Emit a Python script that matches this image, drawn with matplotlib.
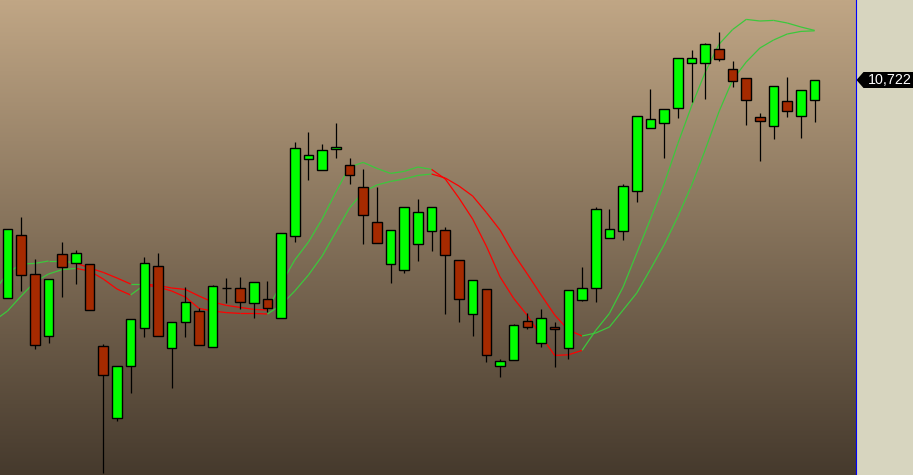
import numpy as np
import matplotlib
matplotlib.use("Agg")
import matplotlib.pyplot as plt
from matplotlib.patches import Polygon
from matplotlib.lines import Line2D

# ---- data ----
opens  = [9632, 9947, 9752, 9442, 9852, 9807, 9802, 9392, 9032, 9292,
          9482, 9792, 9382, 9512, 9567, 9387, 9682, 9682, 9607, 9627,
          9532, 9942, 10327, 10272, 10377, 10297, 10187, 10012, 9802, 9772,
          9902, 9967, 9972, 9822, 9552, 9677, 9292, 9322, 9517, 9407,
          9487, 9382, 9622, 9682, 9932, 9967, 10167, 10482, 10507, 10582,
          10807, 10807, 10877, 10777, 10732, 10537, 10492, 10617, 10542, 10622]
highs  = [9977, 10037, 9827, 9727, 9912, 9872, 9802, 9402, 9292, 9527,
          9837, 9857, 9512, 9687, 9582, 9697, 9732, 9737, 9712, 9717,
          9957, 10412, 10462, 10402, 10507, 10332, 10277, 10187, 9972, 10087,
          10127, 10087, 9987, 9822, 9722, 9677, 9327, 9502, 9557, 9577,
          9512, 9672, 9787, 10087, 10077, 10202, 10542, 10677, 10577, 10832,
          10872, 10907, 10962, 10817, 10732, 10557, 10692, 10737, 10672, 10722]
lows   = [9632, 9667, 9377, 9407, 9637, 9702, 9572, 8757, 9017, 9157,
          9437, 9442, 9182, 9437, 9397, 9387, 9607, 9577, 9532, 9562,
          9532, 9912, 10222, 10272, 10332, 10202, 9902, 9907, 9707, 9757,
          9817, 9867, 9552, 9512, 9442, 9312, 9237, 9322, 9477, 9387,
          9287, 9327, 9617, 9612, 9932, 9922, 10112, 10482, 10332, 10532,
          10612, 10627, 10817, 10687, 10497, 10317, 10427, 10537, 10432, 10512]
closes = [9977, 9747, 9397, 9727, 9787, 9857, 9572, 9247, 9292, 9527,
          9807, 9442, 9512, 9612, 9397, 9692, 9682, 9612, 9712, 9582,
          9957, 10382, 10347, 10372, 10387, 10247, 10047, 9907, 9972, 10087,
          10062, 10087, 9847, 9627, 9722, 9347, 9317, 9497, 9487, 9532,
          9477, 9672, 9682, 10077, 9977, 10192, 10542, 10527, 10577, 10832,
          10832, 10902, 10827, 10717, 10622, 10517, 10692, 10567, 10672, 10722]

# moving-average lines, bar index -1 .. 59
ma_index = list(range(-1, 60))
ma_fast = [9662, 9757, 9802, 9805, 9817, 9817, 9807, 9782, 9760, 9732, 9702,
           9702, 9695, 9682, 9675, 9642, 9612, 9595, 9585, 9575, 9572,
           9702, 9822, 9912, 10027, 10162, 10287, 10310, 10280, 10255, 10265,
           10287, 10275, 10227, 10132, 10027, 9892, 9738, 9630, 9545, 9442,
           9345, 9348, 9370, 9470, 9555, 9687, 9857, 10027, 10202, 10404,
           10591, 10760, 10900, 10974, 11025, 11017, 11020, 11007, 10987, 10970]
ma_slow = [9517, 9567, 9642, 9712, 9752, 9774, 9780, 9767, 9727, 9677, 9647,
           9697, 9687, 9667, 9637, 9580, 9567, 9559, 9555, 9555, 9552,
           9597, 9667, 9747, 9842, 9962, 10082, 10162, 10197, 10215, 10227,
           10245, 10252, 10232, 10192, 10142, 10060, 9972, 9853, 9752, 9648,
           9547, 9472, 9442, 9457, 9487, 9572, 9657, 9776, 9898, 10039,
           10194, 10372, 10562, 10722, 10812, 10882, 10922, 10952, 10965, 10968]
# trend flag per MA point (1 = up / green, 0 = down / red); segment colour uses its end point
trend_up = [1, 1, 1, 1, 1, 1, 1, 0, 0, 0, 0,
            1, 0, 0, 0, 0, 0, 0, 0, 0, 0,
            1, 1, 1, 1, 1, 1, 1, 1, 1, 1,
            1, 1, 0, 0, 0, 0, 0, 0, 0, 0,
            0, 0, 0, 1, 1, 1, 1, 1, 1, 1,
            1, 1, 1, 1, 1, 1, 1, 1, 1, 1]

# ---- styling ----
W, H = 913, 475
plot_w = 855
bar_step = 13.68
first_x = 7.5
y_top, y_bot = 11122, 8747

panel_col = "#D7D5BF"
up_fill = "#00FF00"
dn_fill = "#A52A00"
line_up = "#3CC83C"
line_dn = "#FF0000"

fig = plt.figure(figsize=(W / 100, H / 100), dpi=100)
fig.patch.set_facecolor(panel_col)
ax = fig.add_axes([0, 0, plot_w / W, 1])
ax.set_xlim(-first_x / bar_step, (plot_w - first_x) / bar_step)
ax.set_ylim(y_bot, y_top)
ax.set_axis_off()

# gradient background
top = np.array([192, 166, 133]) / 255
bot = np.array([70, 58, 45]) / 255
t = np.linspace(0, 1, 256)[:, None]
grad = (top[None, :] * (1 - t) + bot[None, :] * t)[:, None, :]
ax.imshow(grad, extent=[0, 1, 0, 1], transform=ax.transAxes, aspect="auto",
          zorder=0, interpolation="bilinear")

# MA lines
for vals in (ma_fast, ma_slow):
    for k in range(1, len(ma_index)):
        c = line_up if trend_up[k] else line_dn
        ax.plot(ma_index[k - 1:k + 1], vals[k - 1:k + 1], color=c, lw=0.9,
                zorder=2, solid_capstyle="butt")

# candles
x = np.arange(len(closes))
o = np.array(opens); c = np.array(closes)
ax.vlines(x, lows, highs, color="black", lw=0.9, zorder=3)
cols = [up_fill if cc > oo else (dn_fill if cc < oo else "black") for oo, cc in zip(o, c)]
ax.bar(x, c - o, bottom=o, width=0.70, color=cols, edgecolor="black",
       linewidth=1.0, zorder=4)

# right panel border
fig.add_artist(Line2D([(plot_w + 0.5) / W] * 2, [0, 1], color="#0000FF", lw=0.8,
                      transform=fig.transFigure))

# last price label
fig.canvas.draw()
yd = ax.transData.transform((0, closes[-1]))[1]
yf = fig.transFigure.inverted().transform((0, yd))[1]
hh = 8.0 / H
x0 = (plot_w + 1.5) / W
x1 = (plot_w + 8.5) / W
poly = Polygon([(x0, yf), (x1, yf + hh), (1.0, yf + hh), (1.0, yf - hh), (x1, yf - hh)],
               closed=True, transform=fig.transFigure, facecolor="black",
               edgecolor="black", lw=0)
fig.add_artist(poly)
fig.text(912 / W, yf, f"{closes[-1]:,}", ha="right", va="center", color="white",
         fontsize=10.3, family="Liberation Sans")

fig.savefig("out.png", dpi=100, facecolor=fig.get_facecolor())
